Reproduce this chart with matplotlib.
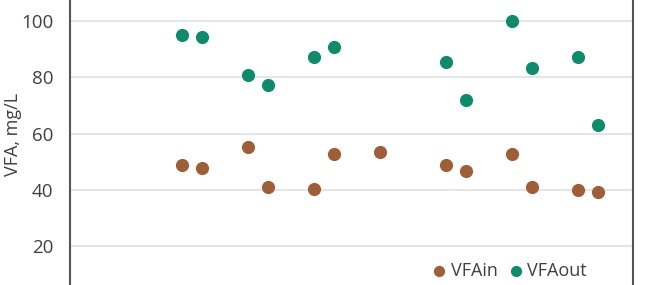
import matplotlib
matplotlib.use("Agg")
from matplotlib import pyplot as plt

# sampling positions (pairs per period) and VFA values, mg/L
x_in = [1.7, 2.0, 2.7, 3.0, 3.7, 4.0, 4.7, 5.7, 6.0, 6.7, 7.0, 7.7, 8.0]
vfa_in = [49.0, 47.8, 55.2, 41.0, 40.3, 52.8, 53.4, 49.0, 46.6, 52.8, 41.1, 39.9, 39.3]

x_out = [1.7, 2.0, 2.7, 3.0, 3.7, 4.0, 5.7, 6.0, 6.7, 7.0, 7.7, 8.0]
vfa_out = [95.1, 94.3, 80.9, 77.2, 87.1, 90.8, 85.3, 71.8, 100.0, 83.3, 87.1, 63.2]

yticks = [20, 40, 60, 80, 100]

plt.rcParams['font.family'] = ['Open Sans', 'DejaVu Sans']

fig = plt.figure(figsize=(6.56, 2.85), dpi=100)
ax = fig.add_axes([70 / 656, 0, 563 / 656, 1])

ax.scatter(x_in, vfa_in, s=90, color='#9E5F38', label='VFAin', zorder=3, linewidths=0)
ax.scatter(x_out, vfa_out, s=90, color='#0F8B6C', label='VFAout', zorder=3, linewidths=0)

ax.set_xlim(0, 563 / 66)
ax.set_ylim(6.2, 107.5)
ax.set_yticks(yticks)
ax.set_yticklabels([str(t) for t in yticks], fontsize=13.5, color='#404040')
ax.set_xticks([])
ax.tick_params(axis='y', length=0, pad=12)
ax.grid(axis='y', color='#e0e0e0', linewidth=1.2)
ax.set_axisbelow(True)

for side in ['top', 'bottom']:
    ax.spines[side].set_visible(False)
for side in ['left', 'right']:
    ax.spines[side].set_color('#555555')
    ax.spines[side].set_linewidth(1.5)

ax.set_ylabel('VFA, mg/L', fontsize=13, color='#404040')
ax.yaxis.set_label_coords(-0.086, 0.53)

ax.legend(loc='lower right', bbox_to_anchor=(0.947, -0.04), ncol=2, frameon=False,
          fontsize=13, handlelength=0.8, handletextpad=0.25, columnspacing=0.6,
          markerscale=0.85, labelcolor='#404040')

fig.savefig('out.png', dpi=100)
